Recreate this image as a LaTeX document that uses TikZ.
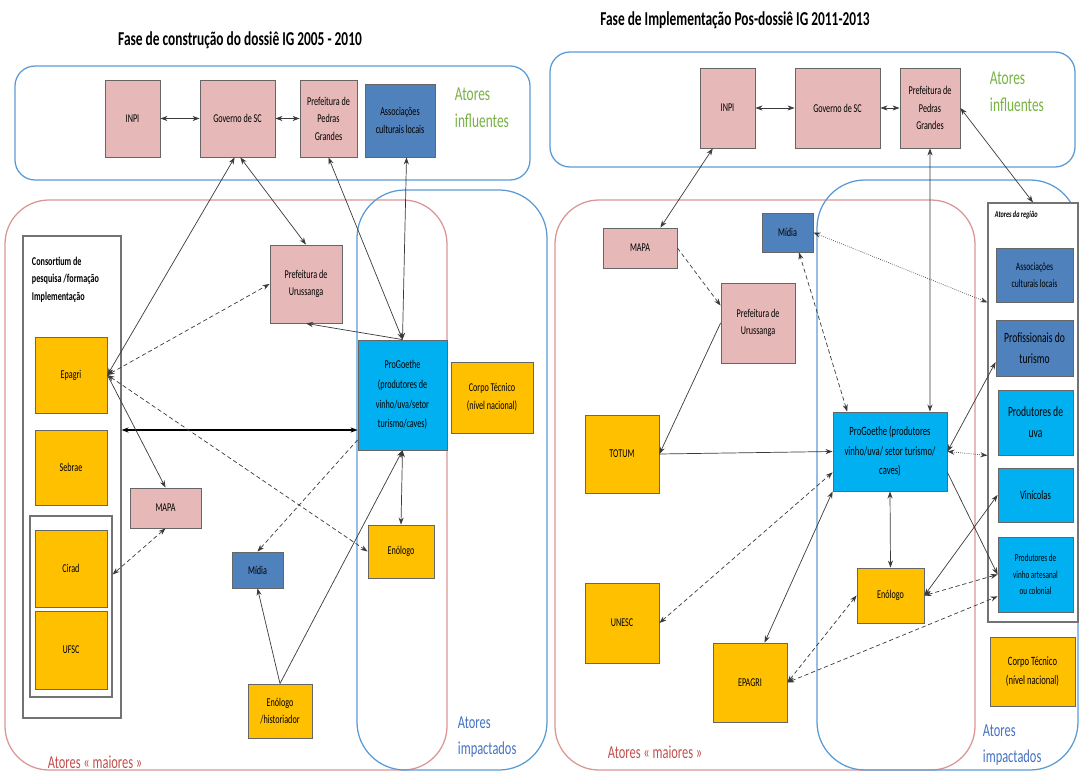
\documentclass[tikz,border=0pt]{standalone}
\usepackage{fontspec}
\setmainfont{Carlito}[FakeStretch=0.68]
\usepackage{tikz}
\usetikzlibrary{arrows.meta, positioning, shadows}

\definecolor{boxpink}{HTML}{E6B9B8}
\definecolor{boxyellow}{HTML}{FFC000}
\definecolor{boxcyan}{HTML}{00B0F0}
\definecolor{boxblue}{HTML}{4F81BD}
\definecolor{zoneblue}{HTML}{5B9BD5}
\definecolor{zonered}{HTML}{D99694}
\definecolor{labgreen}{HTML}{77B243}
\definecolor{labred}{HTML}{C0504D}
\definecolor{labblue}{HTML}{4472C4}
\definecolor{linkgray}{HTML}{3A3A3A}

\begin{document}
\begin{tikzpicture}[
        x=0.025cm, y=-0.025cm,
        actor/.style={
            rectangle, draw=black!60, line width=0.6pt, align=center, inner sep=1pt,
            font=\fontsize{8.5}{12.5}\selectfont,
            drop shadow={shadow xshift=0.8pt, shadow yshift=-0.8pt, opacity=0.35}
        },
        wh/.style 2 args={minimum width=#1*0.025cm, minimum height=#2*0.025cm},
        pinkbox/.style={actor, fill=boxpink},
        yellowbox/.style={actor, fill=boxyellow},
        cyanbox/.style={actor, fill=boxcyan},
        bluebox/.style={actor, fill=boxblue},
        groupbox/.style={rectangle, draw=black!55, line width=0.8pt, fill=white,
            drop shadow={shadow xshift=0.8pt, shadow yshift=-0.8pt, opacity=0.3}},
        zone/.style={line width=0.9pt},
        title/.style={font=\bfseries\fontsize{14}{17}\selectfont},
        zonelabel/.style={anchor=west, align=left, font=\fontsize{14}{19}\selectfont},
        arrow/.style={->, >={Stealth[length=5pt, width=3.6pt]}, draw=linkgray, line width=0.5pt},
        twoway/.style={arrow, <->}
    ]
        \useasboundingbox (0,0) rectangle (1080,773);

        % ---------- left: 2005 - 2010 ----------
        \node[title] (titleA) at (240,40) {Fase de construção do dossiê IG 2005 - 2010};

        % zones
        \draw[zone, zoneblue, rounded corners=0.5cm] (15,66) rectangle (530,180);
        \draw[zone, zonered, rounded corners=1.1cm] (5,200) rectangle (447,770);
        \draw[zone, zoneblue, rounded corners=1.2cm] (357,190) rectangle (547,770);

        \node[zonelabel, text=labgreen] (inflA) at (450,108) {Atores\\influentes};
        \node[zonelabel, text=labred, font=\fontsize{13}{17}\selectfont] (maiorA) at (43,762) {Atores « maiores »};
        \node[zonelabel, text=labblue, font=\fontsize{13}{18}\selectfont] (impA) at (453,737) {Atores\\impactados};

        % influent actors
        \node[pinkbox, wh={55}{77}] (inpiA) at (132.5,118.5) {INPI};
        \node[pinkbox, wh={75}{77}] (govA) at (237.5,118.5) {Governo de SC};
        \node[pinkbox, wh={57}{77}] (pedrasA) at (328.5,118.5) {Prefeitura de\\Pedras\\Grandes};
        \node[bluebox, wh={70}{73}] (assocA) at (400,120.5) {Associações\\culturais locais};

        % consortium
        \node[groupbox, wh={98}{482}] (consA) at (72,477) {};
        \node[anchor=north west, align=left, font=\bfseries\fontsize{8.5}{12.5}\selectfont] (consT) at (27,252)
            {Consortium de\\pesquisa /formação\\Implementação};
        \node[yellowbox, wh={72}{76}] (epagriA) at (71,375) {Epagri};
        \node[yellowbox, wh={72}{75}] (sebraeA) at (71,467.5) {Sebrae};
        \node[groupbox, wh={82}{181}] (innerA) at (71,606.5) {};
        \node[yellowbox, wh={72}{77}] (ciradA) at (71,568.5) {Cirad};
        \node[yellowbox, wh={72}{78}] (ufscA) at (71,650) {UFSC};

        % other actors
        \node[pinkbox, wh={71}{40}] (mapaA) at (165.5,508) {MAPA};
        \node[pinkbox, wh={72}{78}] (urussA) at (306,284) {Prefeitura de\\Urussanga};
        \node[cyanbox, wh={89}{110}, font=\fontsize{8.5}{14}\selectfont] (goetheA) at (402.5,395)
            {ProGoethe\\(produtores de\\vinho/uva/setor\\turismo/caves)};
        \node[yellowbox, wh={82}{71}] (corpoA) at (492,397.5) {Corpo Técnico\\(nível nacional)};
        \node[yellowbox, wh={66}{53}] (enoA) at (401,551.5) {Enólogo};
        \node[bluebox, wh={51}{36}] (midiaA) at (257.5,570) {Mídia};
        \node[yellowbox, wh={64}{54}] (histA) at (280,711) {Enólogo\\/historiador};

        % connectors
        \draw[twoway] (inpiA) -- (govA);
        \draw[twoway] (govA) -- (pedrasA);
        \draw[twoway] (epagriA.east) -- ([xshift=-2pt]govA.south);
        \draw[twoway] ([xshift=2pt]govA.south) -- (urussA.north);
        \draw[twoway, densely dashed] (epagriA.east) -- (urussA.west);
        \draw[twoway] (pedrasA.south) -- (goetheA.north);
        \draw[twoway] (assocA.-80) -- (goetheA.north);
        \draw[arrow] (goetheA.north) -- (urussA.south);
        \coordinate (thk) at ([yshift=-0.875cm]goetheA.west);
        \draw[twoway, draw=black, line width=1.5pt] (thk) -- (thk -| consA.east);
        \draw[arrow] (epagriA.east) -- (mapaA.north);
        \draw[twoway, densely dashed] (epagriA.east) -- (enoA.west);
        \draw[twoway, densely dashed] (mapaA.south) -- ([yshift=0.8cm]innerA.east);
        \draw[arrow, densely dashed] (goetheA.225) -- (midiaA.north);
        \draw[arrow] (histA.north) -- (midiaA.south);
        \draw[arrow] (histA.north) -- (goetheA.south);
        \draw[twoway] (goetheA.south) -- (enoA.north);

        % ---------- right: 2011 - 2013 ----------
        \node[title] (titleB) at (735,20) {Fase de Implementação Pos-dossiê IG 2011-2013};

        % zones
        \draw[zone, zoneblue, rounded corners=0.5cm] (550,52) rectangle (1075,167);
        \draw[zone, zonered, rounded corners=1.1cm] (555,200) rectangle (975,770);
        \draw[zone, zoneblue, rounded corners=1.2cm] (817,180) rectangle (1078,770);

        \node[zonelabel, text=labgreen] (inflB) at (985,92) {Atores\\influentes};
        \node[zonelabel, text=labred, font=\fontsize{13}{17}\selectfont] (maiorB) at (603,752) {Atores « maiores »};
        \node[zonelabel, text=labblue, font=\fontsize{13}{18}\selectfont] (impB) at (978,745) {Atores\\impactados};

        % influent actors
        \node[pinkbox, wh={55}{80}] (inpiB) at (727.5,108) {INPI};
        \node[pinkbox, wh={85}{80}] (govB) at (837.5,108) {Governo de SC};
        \node[pinkbox, wh={60}{80}] (pedrasB) at (930,108) {Prefeitura de\\Pedras\\Grandes};

        % regional actors
        \node[groupbox, wh={90}{419}] (regiaoB) at (1033,412.5) {};
        \node[anchor=west, font=\bfseries\itshape\fontsize{6.5}{8}\selectfont] (regiaoT) at (990,215) {Atores da região};
        \node[bluebox, wh={77}{54}, font=\fontsize{8}{12}\selectfont] (assocB) at (1034.5,275) {Associações\\culturais locais};
        \node[bluebox, wh={77}{56}, font=\fontsize{10}{15}\selectfont] (profB) at (1034.5,348) {Profissionais do\\turismo};
        \node[cyanbox, wh={75}{65}, font=\fontsize{10}{15}\selectfont] (uvaB) at (1035.5,422.5) {Produtores de\\uva};
        \node[cyanbox, wh={75}{54}, font=\fontsize{9}{12}\selectfont] (vinB) at (1035.5,495) {Vinícolas};
        \node[cyanbox, wh={75}{75}, font=\fontsize{7.5}{12}\selectfont] (artB) at (1035.5,574.5) {Produtores de\\vinho artesanal\\ou colonial};
        \node[yellowbox, wh={85}{69}, font=\fontsize{9}{13}\selectfont] (corpoB) at (1032.5,671.5) {Corpo Técnico\\(nível nacional)};

        % other actors
        \node[pinkbox, wh={74}{40}] (mapaB) at (640,248) {MAPA};
        \node[bluebox, wh={51}{39}] (midiaB) at (787.5,232.5) {Mídia};
        \node[pinkbox, wh={74}{80}] (urussB) at (758,323) {Prefeitura de\\Urussanga};
        \node[yellowbox, wh={74}{78}] (totumB) at (622,454) {TOTUM};
        \node[cyanbox, wh={114}{79}, font=\fontsize{9}{14}\selectfont] (goetheB) at (890,451.5)
            {ProGoethe (produtores\\vinho/uva/ setor turismo/\\caves)};
        \node[yellowbox, wh={74}{80}] (unescB) at (622,623) {UNESC};
        \node[yellowbox, wh={67}{55}] (enoB) at (890.5,595.5) {Enólogo};
        \node[yellowbox, wh={74}{79}] (epagriB) at (750,682.5) {EPAGRI};

        % connectors
        \draw[twoway] (inpiB) -- (govB);
        \draw[twoway] (govB) -- (pedrasB);
        \draw[twoway] (mapaB.45) -- (inpiB.250);
        \draw[arrow, densely dashed] (mapaB.east) -- (urussB.155);
        \draw[arrow] (urussB.west) -- (totumB.east);
        \draw[arrow] (totumB.east) -- (goetheB.west);
        \draw[twoway, densely dashed] (goetheB.137) -- (midiaB.-60);
        \draw[twoway] (pedrasB.south) -- (goetheB.45);
        \draw[twoway] (pedrasB.east) -- (regiaoB.north);
        \draw[twoway, densely dotted] (midiaB.east) -- (assocB.south west -| regiaoB.west);
        \draw[twoway] (goetheB.east) -- (profB.200);
        \draw[twoway, densely dotted] (goetheB.east) -- (uvaB.south west -| regiaoB.west);
        \draw[arrow] (goetheB.-20) -- (artB.west);
        \draw[twoway] (vinB.west) -- (enoB.east);
        \draw[twoway, densely dashed] (artB.west) -- (enoB.east);
        \draw[twoway] (goetheB.south) -- (enoB.north);
        \draw[twoway] (epagriB.70) -- (goetheB.south west);
        \draw[twoway, densely dashed] (unescB.east) -- (goetheB.200);
        \draw[twoway, densely dashed] (epagriB.east) -- (enoB.west);
        \draw[twoway, densely dashed] (epagriB.east) -- (artB.210);

    \end{tikzpicture}
\end{document}
